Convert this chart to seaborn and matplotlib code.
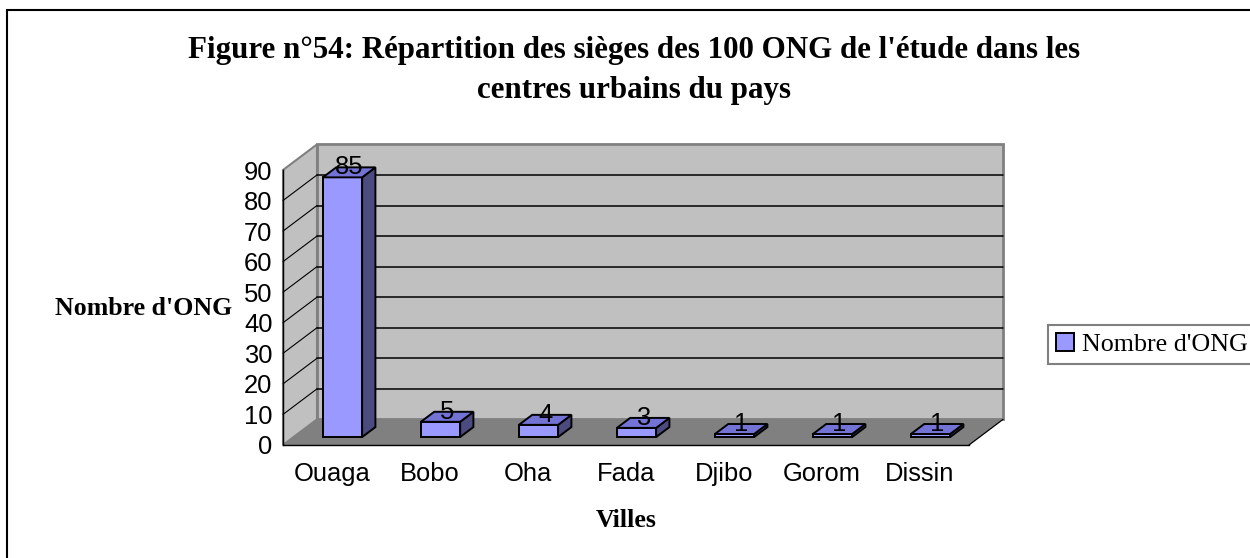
import numpy as np
import pandas as pd
import matplotlib
matplotlib.use("Agg")
import matplotlib.pyplot as plt
import seaborn as sns
from matplotlib.patches import Polygon, Rectangle
from matplotlib.lines import Line2D
from matplotlib.transforms import offset_copy, IdentityTransform
from matplotlib.font_manager import FontProperties

# ---------------- data ----------------
villes = ["Ouaga", "Bobo", "Oha", "Fada", "Djibo", "Gorom", "Dissin"]
nombre_ong = [85, 5, 4, 3, 1, 1, 1]
y_ticks = [0, 10, 20, 30, 40, 50, 60, 70, 80, 90]
series_name = "Nombre d'ONG"
title_l1 = "Figure n°54: Répartition des sièges des 100 ONG de l'étude dans les"
title_l2 = "centres urbains du pays"
x_title = "Villes"
y_title = "Nombre d'ONG"

df = pd.DataFrame({"Villes": villes, "Nombre": nombre_ong})

# ---------------- style ----------------
sns.set_style("white")
plt.rcParams["font.family"] = ["Liberation Sans", "DejaVu Sans"]
plt.rcParams["text.color"] = "black"
plt.rcParams["axes.labelcolor"] = "black"
plt.rcParams["xtick.color"] = "black"
plt.rcParams["ytick.color"] = "black"

W, H = 1250, 558
fig = plt.figure(figsize=(W / 100, H / 100), dpi=100)
ax = fig.add_axes([283 / W, (H - 445) / H, 686 / W, 275 / H])
ax.patch.set_visible(False)

BAR_FACE = "#9999FF"
BAR_TOP = "#7373D6"
BAR_SIDE = "#4B4B80"
WALL = "#C0C0C0"
FLOOR = "#808080"
EDGE_GREY = "#808080"

DEPTH = np.array([34.0, 25.6])   # px of full depth (to the back wall)
D_FRONT, D_BACK = 0.31, 0.70      # bar position within the depth

sns.barplot(data=df, x="Villes", y="Nombre", color=BAR_FACE, saturation=1,
            width=0.4, edgecolor="black", linewidth=1.4, ax=ax,
            label=series_name, zorder=5)

ax.set_xlim(-0.5, len(villes) - 0.5)
ax.set_ylim(0, 90)

# shift bar front faces into depth
bar_tr = offset_copy(ax.transData, fig=fig, x=DEPTH[0] * D_FRONT,
                     y=DEPTH[1] * D_FRONT, units="dots")
bars = list(ax.patches)
for p in bars:
    p.set_transform(bar_tr)
    p.set_clip_on(False)
    p.set_zorder(5)


def P(x, y, d):
    return ax.transData.transform((x, y)) + d * DEPTH


idt = IdentityTransform()
x0, x1 = -0.5, len(villes) - 0.5


def add_poly(pts, **kw):
    poly = Polygon(pts, closed=True, transform=idt, clip_on=False, **kw)
    ax.add_artist(poly)
    return poly


def add_line(a, b, **kw):
    ln = Line2D([a[0], b[0]], [a[1], b[1]], transform=idt, clip_on=False, **kw)
    ax.add_artist(ln)
    return ln


# back wall
add_poly([P(x0, 0, 1), P(x1, 0, 1), P(x1, 90, 1), P(x0, 90, 1)],
         facecolor=WALL, edgecolor=EDGE_GREY, lw=2.0, zorder=0.5)
# left wall
add_poly([P(x0, 0, 0), P(x0, 90, 0), P(x0, 90, 1), P(x0, 0, 1)],
         facecolor=WALL, edgecolor=EDGE_GREY, lw=1.5, zorder=0.6)
# floor
add_poly([P(x0, 0, 0), P(x1, 0, 0), P(x1, 0, 1), P(x0, 0, 1)],
         facecolor=FLOOR, edgecolor="none", zorder=0.7)
add_line(P(x1, 0, 0), P(x1, 0, 1), color="black", lw=0.9, zorder=0.8)

# gridlines on back and side walls
for v in y_ticks[1:-1]:
    add_line(P(x0, v, 1), P(x1, v, 1), color="black", lw=1.1, zorder=0.8)
    add_line(P(x0, v, 0), P(x0, v, 1), color="black", lw=0.8, zorder=0.8)

# 3-D faces of the bars + labels
lab_tr = offset_copy(ax.transData, fig=fig, x=DEPTH[0] * (D_FRONT + D_BACK) / 2,
                     y=DEPTH[1] * D_BACK, units="dots")
for p, v in zip(bars, nombre_ong):
    bx0 = p.get_x()
    bx1 = bx0 + p.get_width()
    add_poly([P(bx1, 0, D_FRONT), P(bx1, v, D_FRONT),
              P(bx1, v, D_BACK), P(bx1, 0, D_BACK)],
             facecolor=BAR_SIDE, edgecolor="black", lw=1.4, zorder=6)
    add_poly([P(bx0, v, D_FRONT), P(bx1, v, D_FRONT),
              P(bx1, v, D_BACK), P(bx0, v, D_BACK)],
             facecolor=BAR_TOP, edgecolor="black", lw=1.4, zorder=6.5)
    ax.text(bx0 + p.get_width() / 2, v, str(v), transform=lab_tr,
            ha="center", va="center", fontsize=18.4, color="black",
            family="Liberation Sans", zorder=10, clip_on=False)

# spines / ticks
for s in ["top", "right"]:
    ax.spines[s].set_visible(False)
for s in ["left", "bottom"]:
    ax.spines[s].set_color("black")
    ax.spines[s].set_linewidth(1.0)
    ax.spines[s].set_zorder(4)

ax.set_yticks(y_ticks)
ax.set_yticklabels([str(t) for t in y_ticks])
ax.tick_params(axis="y", direction="out", length=3.6, width=1, color="black",
               pad=4, labelsize=18.4, labelcolor="black")
ax.set_xticks(np.arange(len(villes) + 1) - 0.5)
ax.set_xticklabels([""] * (len(villes) + 1))
ax.set_xticks(np.arange(len(villes)), minor=True)
ax.set_xticklabels(villes, minor=True)
ax.tick_params(axis="x", which="major", direction="out", length=5, width=1,
               color="black")
ax.tick_params(axis="x", which="minor", length=0, pad=12, labelsize=18.4,
               labelcolor="black")
ax.grid(False)

serif_b = dict(family="Liberation Serif", weight="bold", color="black")
ax.set_ylabel(y_title, rotation=0, ha="right", va="center", fontsize=18.6,
              **serif_b)
ax.yaxis.set_label_coords(-0.0743, 0.498)
ax.set_xlabel(x_title, ha="center", va="center", fontsize=18.6, **serif_b)
ax.xaxis.set_label_coords(0.5, -0.273)

# title
fig.text(634 / W, 1 - 58 / H, title_l1, ha="center", va="baseline",
         fontsize=22.3, **serif_b)
fig.text(634 / W, 1 - 98 / H, title_l2, ha="center", va="baseline",
         fontsize=22.3, **serif_b)

# legend
leg = ax.legend(loc="center left", bbox_to_anchor=(1048 / W, 1 - 344.5 / H),
                bbox_transform=fig.transFigure, frameon=True, fancybox=False,
                borderaxespad=0, handlelength=0.7, handleheight=0.7,
                handletextpad=0.3, borderpad=0.3,
                prop=FontProperties(family="Liberation Serif", size=18.7))
leg.get_frame().set_edgecolor(EDGE_GREY)
leg.get_frame().set_linewidth(1.5)
leg.get_frame().set_alpha(1)
for t in leg.get_texts():
    t.set_color("black")

# outer chart frame (right / bottom edges fall outside the picture)
fig.add_artist(Rectangle((7 / W, -0.5), 2.0, 1.5 - 9.5 / H, fill=False,
                         edgecolor="black", lw=1.5, transform=fig.transFigure))

fig.savefig("out.png", dpi=100)
